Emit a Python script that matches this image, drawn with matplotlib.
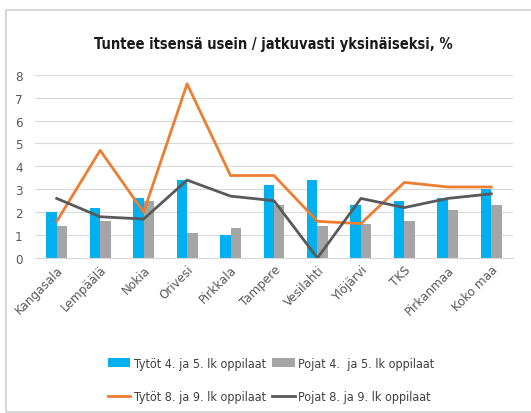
import matplotlib.pyplot as plt
import matplotlib.patches as patches
import numpy as np

# Data
places = ["Kangasala", "Lempäälä", "Nokia", "Orivesi", "Pirkkala", "Tampere",
          "Vesilahti", "Ylöjärvi", "TKS", "Pirkanmaa", "Koko maa"]
girls_4_5 = [2.0, 2.2, 2.6, 3.4, 1.0, 3.2, 3.4, 2.3, 2.5, 2.6, 3.0]
boys_4_5 = [1.4, 1.6, 2.5, 1.1, 1.3, 2.3, 1.4, 1.5, 1.6, 2.1, 2.3]
girls_8_9 = [1.6, 4.7, 2.0, 7.6, 3.6, 3.6, 1.6, 1.5, 3.3, 3.1, 3.1]
boys_8_9 = [2.6, 1.8, 1.7, 3.4, 2.7, 2.5, 0.0, 2.6, 2.2, 2.6, 2.8]

labels = ["Tytöt 4. ja 5. lk oppilaat", "Pojat 4.  ja 5. lk oppilaat",
          "Tytöt 8. ja 9. lk oppilaat", "Pojat 8. ja 9. lk oppilaat"]

plt.rcParams['font.family'] = ['DejaVu Sans']
plt.rcParams['font.stretch'] = 'condensed'

fig = plt.figure(figsize=(5.31, 4.14), dpi=100)
fig.patch.set_facecolor('white')

# light frame like the Excel chart area
fig.patches.append(patches.Rectangle((6 / 531, 1 / 414), 530 / 531, 402 / 414,
                                     transform=fig.transFigure, fill=False,
                                     edgecolor='#d0d0d0', linewidth=1.2))

ax = fig.add_axes([35 / 531, 1 - 259 / 414, 478 / 531, 183.3 / 414])

x = np.arange(len(places))
w = 0.24
b1 = ax.bar(x - w / 2, girls_4_5, w, color='#00B0F0', zorder=2)
b2 = ax.bar(x + w / 2, boys_4_5, w, color='#A5A5A5', zorder=2)
l1, = ax.plot(x, girls_8_9, color='#ED7D31', lw=2.0, zorder=3)
l2, = ax.plot(x, boys_8_9, color='#595959', lw=2.0, zorder=3)

ax.set_xlim(-0.5, len(places) - 0.5)
ax.set_ylim(0, 8)
ax.set_yticks(range(0, 9))
ax.grid(axis='y', color='#d9d9d9', linewidth=0.8, zorder=0)
for s in ['top', 'right', 'left']:
    ax.spines[s].set_visible(False)
ax.spines['bottom'].set_color('#d9d9d9')
ax.tick_params(axis='both', length=0, colors='#595959', labelsize=9.5)
ax.tick_params(axis='y', pad=9)
ax.set_xticks(x)
ax.set_xticklabels(places, rotation=45, ha='right', rotation_mode='anchor')

fig.text(273 / 531, 1 - 44 / 414, "Tuntee itsensä usein / jatkuvasti yksinäiseksi, %",
         ha='center', va='center', fontsize=10.5, fontweight='bold', color='#1a1a1a')

fig.legend([b1, l1, b2, l2], [labels[0], labels[2], labels[1], labels[3]],
           ncol=2, loc='center', bbox_to_anchor=(271 / 531, 1 - 381 / 414),
           frameon=False, fontsize=9, labelcolor='#404040',
           handlelength=1.8, handletextpad=0.3, columnspacing=0.5,
           labelspacing=1.6)

fig.savefig("out.png", dpi=100)
